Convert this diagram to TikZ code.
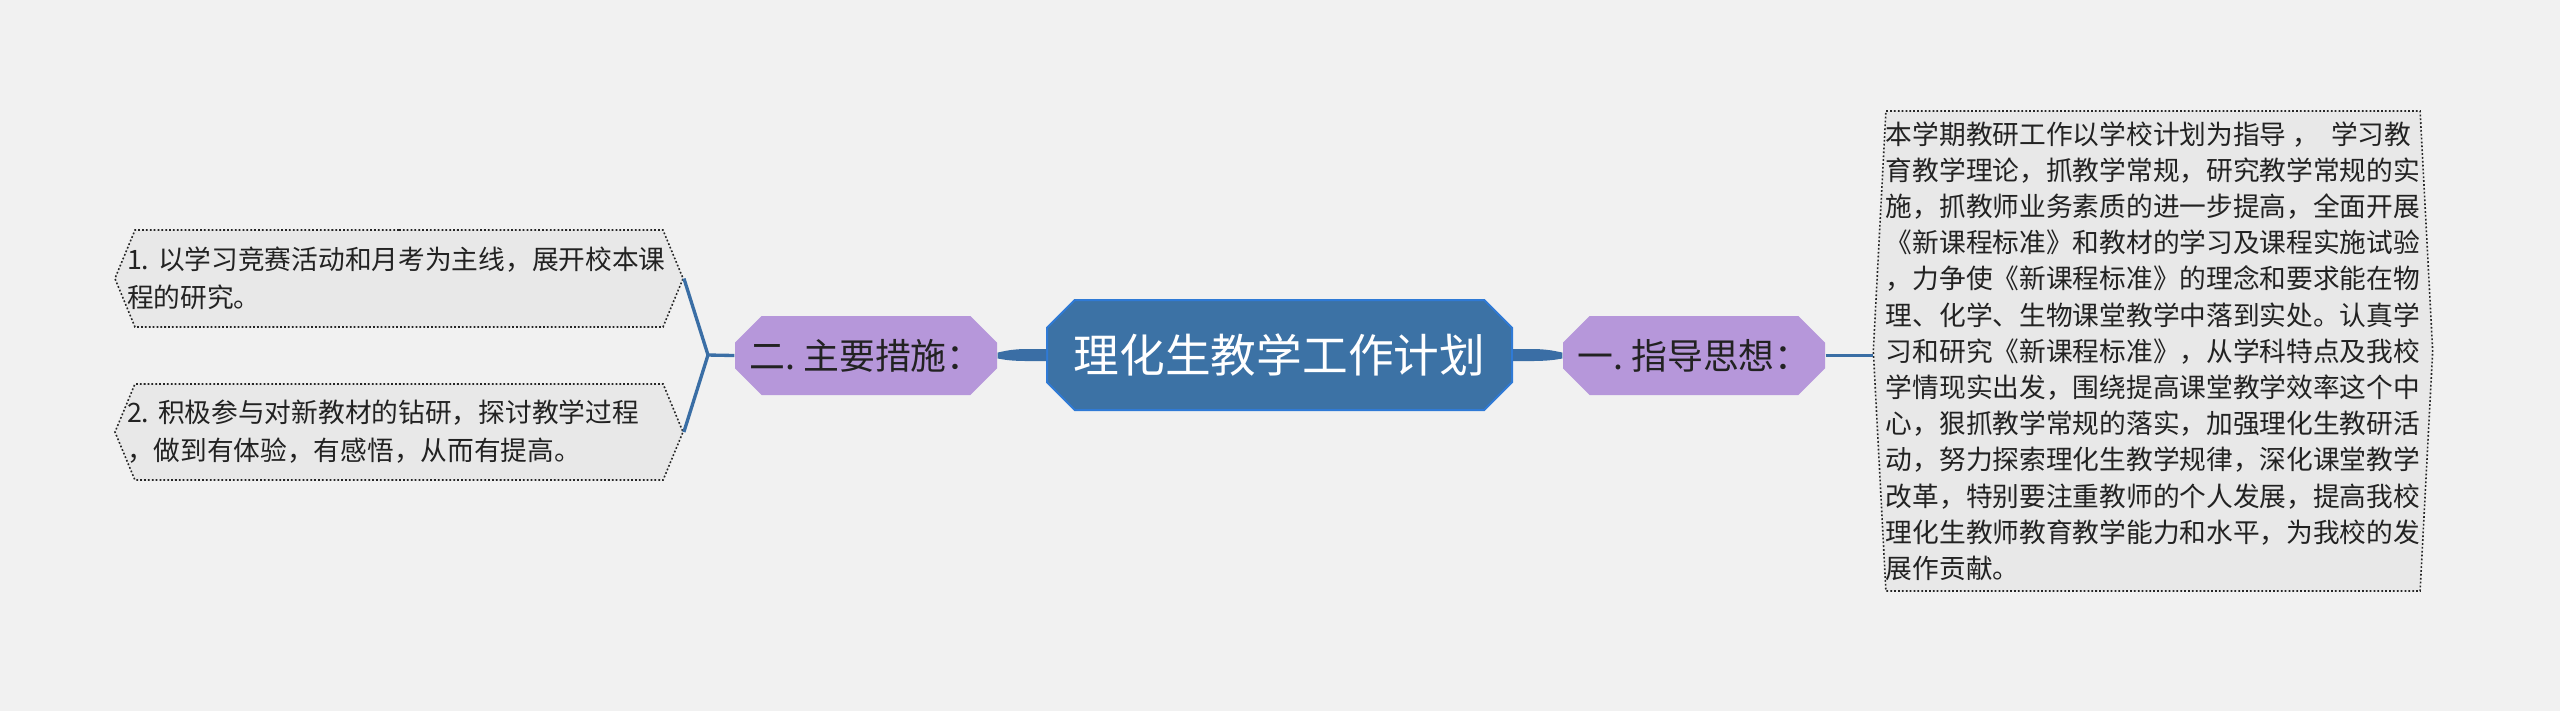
\documentclass[tikz,border=0pt]{standalone}
\usepackage{fontspec}
\setmainfont{Noto Sans CJK SC}
\usetikzlibrary{shapes.misc,shapes.symbols}
\definecolor{bgc}{HTML}{F1F1F1}
\definecolor{rootc}{HTML}{3C72A5}
\definecolor{rootline}{HTML}{2F7AD6}
\definecolor{mainc}{HTML}{B697DA}
\definecolor{leafc}{HTML}{E8E8E8}
\definecolor{linkc}{HTML}{3A6EA5}
\definecolor{textc}{HTML}{222222}
\tikzset{
  rootbox/.style={chamfered rectangle, chamfered rectangle xsep=1.5mm, fill=rootc, draw=rootline,
    line width=0.2mm, text=white, inner sep=0pt, minimum width=46.5mm, minimum height=11mm,
    font=\fontsize{13pt}{15pt}\selectfont},
  mainbox/.style={chamfered rectangle, chamfered rectangle xsep=1.4mm, fill=mainc, draw=none,
    text=textc, inner sep=0pt, minimum width=26.2mm, minimum height=7.9mm,
    font=\fontsize{10.2pt}{12pt}\selectfont},
  leafbox/.style={signal, signal from=nowhere, signal to=west and east, fill=leafc,
    draw=black!85, line width=0.45pt, dash pattern=on 0.5pt off 0.6pt, text=textc,
    align=left, inner sep=0pt},
  sideleaf/.style={leafbox, signal pointer angle=135, minimum width=56.8mm,
    text width=54.4mm, inner xsep=-0.8mm, font=\fontsize{7.6pt}{10.8pt}\selectfont},
  link/.style={draw=linkc, line width=0.95pt},
  taper/.style={fill=linkc}
}
\begin{document}
\begin{tikzpicture}[x=0.1mm, y=-0.1mm]
  \fill[bgc] (0,0) rectangle (2560,711);
  \useasboundingbox (0,0) rectangle (2560,711);

  \node[rootbox] (root) at (1279.5,355) {理化生教学工作计划};
  \node[mainbox] (cuoshi) at (866,355.5) {二.\ 主要措施：};
  \node[mainbox] (sixiang) at (1694,355.5) {一.\ 指导思想：};

  \node[sideleaf, minimum height=9.7mm] (leafa) at (399,278.5)
    {1.\ 以学习竞赛活动和月考为主线，展开校本课\\程的研究。};
  \node[sideleaf, minimum height=9.6mm] (leafb) at (399,432)
    {2.\ 积极参与对新教材的钻研，探讨教学过程\\，做到有体验，有感悟，从而有提高。};
  \node[leafbox, signal pointer angle=174, minimum width=55.4mm, minimum height=48mm,
    font=\fontsize{7.6pt}{10.3pt}\selectfont] (leafc) at (2153,351)
    {本学期教研工作以学校计划为指导~，~~学习教\\
     育教学理论，抓教学常规，研究教学常规的实\\
     施，抓教师业务素质的进一步提高，全面开展\\
     《新课程标准》和教材的学习及课程实施试验\\
     ，力争使《新课程标准》的理念和要求能在物\\
     理、化学、生物课堂教学中落到实处。认真学\\
     习和研究《新课程标准》，从学科特点及我校\\
     学情现实出发，围绕提高课堂教学效率这个中\\
     心，狠抓教学常规的落实，加强理化生教研活\\
     动，努力探索理化生教学规律，深化课堂教学\\
     改革，特别要注重教师的个人发展，提高我校\\
     理化生教师教育教学能力和水平，为我校的发\\
     展作贡献。};

  \coordinate (fork) at (708,355);
  \draw[link] (leafa.east) -- (fork) -- (leafb.east);
  \draw[link] (fork) -- (cuoshi.west);
  \draw[link] (sixiang.east) -- (sixiang.east -| leafc.west);

  \fill[taper] ([yshift=0.6mm]root.west) -- ([xshift=-1.8mm,yshift=0.6mm]root.west)
    .. controls ([xshift=-3.6mm,yshift=0.6mm]root.west) and ([xshift=0.6mm,yshift=0.4mm]cuoshi.east)
    .. ([yshift=0.3mm]cuoshi.east) -- ([yshift=-0.3mm]cuoshi.east)
    .. controls ([xshift=0.6mm,yshift=-0.4mm]cuoshi.east) and ([xshift=-3.6mm,yshift=-0.6mm]root.west)
    .. ([xshift=-1.8mm,yshift=-0.6mm]root.west) -- ([yshift=-0.6mm]root.west) -- cycle;
  \fill[taper] ([yshift=0.6mm]root.east) -- ([xshift=1.8mm,yshift=0.6mm]root.east)
    .. controls ([xshift=3.6mm,yshift=0.6mm]root.east) and ([xshift=-0.6mm,yshift=0.4mm]sixiang.west)
    .. ([yshift=0.3mm]sixiang.west) -- ([yshift=-0.3mm]sixiang.west)
    .. controls ([xshift=-0.6mm,yshift=-0.4mm]sixiang.west) and ([xshift=3.6mm,yshift=-0.6mm]root.east)
    .. ([xshift=1.8mm,yshift=-0.6mm]root.east) -- ([yshift=-0.6mm]root.east) -- cycle;
\end{tikzpicture}
\end{document}
